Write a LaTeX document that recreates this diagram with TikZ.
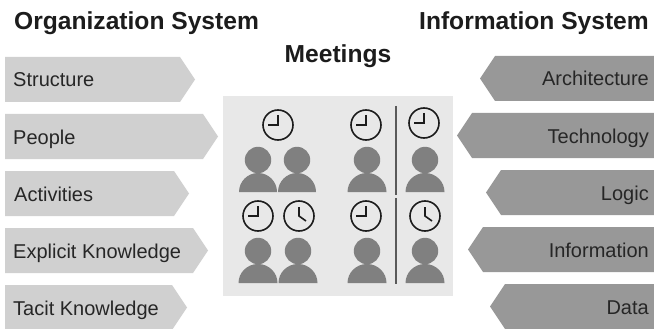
\documentclass[tikz,border=0pt]{standalone}
\usepackage{fontspec}
\setmainfont{Liberation Sans}
\definecolor{lightarrow}{HTML}{D0D0D0}
\definecolor{darkarrow}{HTML}{989898}
\definecolor{panel}{HTML}{E8E8E8}
\definecolor{person}{HTML}{808080}
\definecolor{inkc}{HTML}{1C1C1C}
\definecolor{txt}{HTML}{262626}
\tikzset{
  x=1pt,y=-1pt,
  title/.style={font=\fontsize{24.6}{28}\selectfont\bfseries,text=inkc,inner sep=0pt},
  lbl/.style={font=\fontsize{20}{24}\selectfont,text=txt,inner sep=0pt},
  clockface/.style={draw=inkc,line width=1.6pt},
  hand/.style={draw=inkc,line width=1.6pt},
}
\newcommand{\leftarrowbox}[5][13]{%
  \fill[lightarrow] (5,#2) -- (#3-15,#2) -- (#3,#2+22.5) -- (#3-15,#2+45) -- (5,#2+45) -- cycle;
  \node[lbl,anchor=base west] (#5) at (#1,#2+30) {#4};}
\newcommand{\rightarrowbox}[4]{%
  \fill[darkarrow] (654,#1) -- (#2+15,#1) -- (#2,#1+22.5) -- (#2+15,#1+45) -- (654,#1+45) -- cycle;
  \node[lbl,anchor=base east] (#4) at (649,#1+30) {#3};}
\newcommand{\personat}[4]{%
  \fill[person] (#1,#2) circle (13.2);
  \fill[person] (#1-#3,#2+#4+19) arc[start angle=180,end angle=360,x radius=#3,y radius=19] -- cycle;}
\newcommand{\clocknine}[2]{%
  \draw[clockface] (#1,#2) circle (15);
  \draw[hand] (#1,#2-10) -- (#1,#2) -- (#1-10,#2);}
\newcommand{\clockfour}[2]{%
  \draw[clockface] (#1,#2) circle (15);
  \draw[hand] (#1,#2-9) -- (#1,#2) -- (#1+7,#2+5);}
\begin{document}
\begin{tikzpicture}
\useasboundingbox (0,0) rectangle (654,329);
\fill[white] (0,0) rectangle (654,329);
\node[title,anchor=base west] (orgsys) at (14,30) {Organization System};
\node[title,anchor=base east] (infosys) at (649,30) {Information System};
\node[title,anchor=base] (meet) at (338,63) {Meetings};
\leftarrowbox{57}{195}{Structure}{a1}
\leftarrowbox{114}{218}{People}{a2}
\leftarrowbox[14]{171}{189}{Activities}{a3}
\leftarrowbox{228}{208}{Explicit Knowledge}{a4}
\leftarrowbox{285}{187}{Tacit Knowledge}{a5}
\rightarrowbox{56}{480}{Architecture}{b1}
\rightarrowbox{113}{457}{Technology}{b2}
\rightarrowbox{170}{486}{Logic}{b3}
\rightarrowbox{227}{468}{Information}{b4}
\rightarrowbox{284}{490}{Data}{b5}
\fill[panel] (223,96) rectangle (453,296);
\clocknine{278}{125}
\clocknine{366}{125}
\clocknine{424}{123}
\clocknine{258}{216}
\clockfour{299}{216}
\clocknine{366}{216}
\clockfour{425}{216}
\personat{258}{160}{19}{13}
\personat{297}{160}{19}{13}
\personat{367}{160}{19.5}{13}
\personat{425}{160}{19.5}{13}
\personat{258}{251}{19.5}{13}
\personat{298}{251}{19.5}{13}
\personat{367}{251}{19.5}{13}
\personat{425}{251}{19.5}{13}
\draw[person!70!black,line width=1.5pt] (396,106) -- (396,195);
\draw[person!70!black,line width=1.5pt] (396,198) -- (396,284);
\end{tikzpicture}
\end{document}
